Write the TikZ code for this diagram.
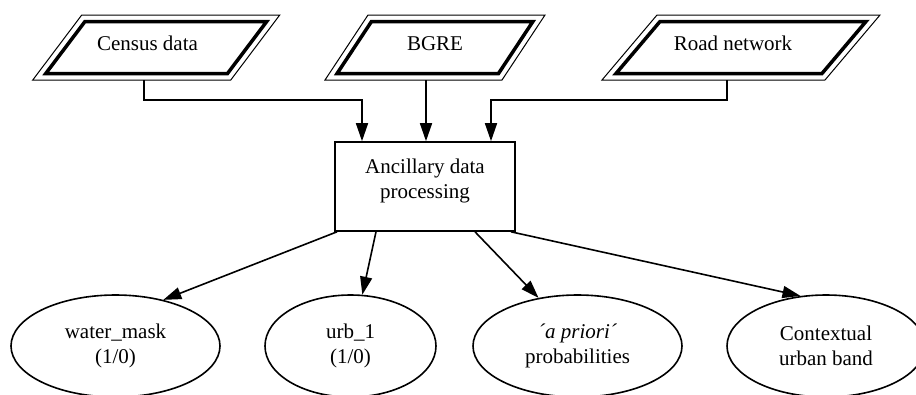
\documentclass[tikz,border=0pt]{standalone}
\usepackage{fontspec}
\setmainfont{Liberation Serif}
\usetikzlibrary{shapes.geometric,arrows.meta,calc}
\newcommand\ioshape[4]{%
  \pgfmathsetmacro\ioK{6.5*sqrt(65*65+#4*#4)/65}%
  \draw[line width=1pt] (#1-#3+#4/2,#2-32.5) -- (#1+#3+#4/2,#2-32.5) -- (#1+#3-#4/2,#2+32.5) -- (#1-#3-#4/2,#2+32.5) -- cycle;
  \draw[line width=3.5pt] (#1-#3+0.4*#4+\ioK,#2-26) -- (#1+#3+0.4*#4-\ioK,#2-26) -- (#1+#3-0.4*#4-\ioK,#2+26) -- (#1-#3-0.4*#4+\ioK,#2+26) -- cycle;
}
\begin{document}
\begin{tikzpicture}[x=1pt,y=-1pt,
  every node/.style={font=\fontsize{21}{25}\selectfont, align=center, inner sep=0pt},
  arr/.style={line width=1.6pt, -{Triangle[length=18pt,width=12pt]}},
  procbox/.style={draw, line width=1.6pt, minimum width=180pt, minimum height=89pt},
  oval/.style={draw, ellipse, line width=1.6pt, minimum height=102pt},
  lbl/.style={anchor=base}]
\useasboundingbox (0,0) rectangle (916,394);

% input parallelograms
\ioshape{156.25}{47.5}{99}{49}
\ioshape{435}{47.5}{88.5}{43}
\ioshape{741}{47.5}{111.5}{55}
\node[lbl] (census) at (147.5,50) {Census data};
\node[lbl] (bgre) at (435,50) {BGRE};
\node[lbl] (road) at (733,50) {Road network};
\coordinate (censusB) at (144,80);
\coordinate (bgreB) at (426,80);
\coordinate (roadB) at (727,80);

% processing box
\node[procbox] (proc) at (425,186.5) {};
\node (proctext) at (425,180.5) {Ancillary data\\processing};

% outputs
\node[oval, minimum width=209pt] (water) at (115.5,346) {water\_mask\\(1/0)};
\node[oval, minimum width=171pt] (urb) at (350.5,346) {urb\_1\\(1/0)};
\node[oval, minimum width=209pt] (prior) at (577.5,346) {{\itshape ´a priori´}\\probabilities};
\node[oval, minimum width=198pt] (ctx) at (826,346) {Contextual\\urban band};

% connectors in
\draw[arr] (censusB) -- ++(0,20) -| ($(proc.north)+(-63,0)$);
\draw[arr] (bgreB) -- (bgreB |- proc.north);
\draw[arr] (roadB) -- ++(0,20) -| ($(proc.north)+(66,0)$);

% connectors out
\draw[arr] ($(proc.south)+(-88,0)$) -- (water.44.7);
\draw[arr] ($(proc.south)+(-49,0)$) -- (urb.77.3);
\draw[arr] ($(proc.south)+(50,0)$) -- (prior.129.8);
\draw[arr] ($(proc.south)+(86,0)$) -- (ctx.117.5);
\end{tikzpicture}
\end{document}
